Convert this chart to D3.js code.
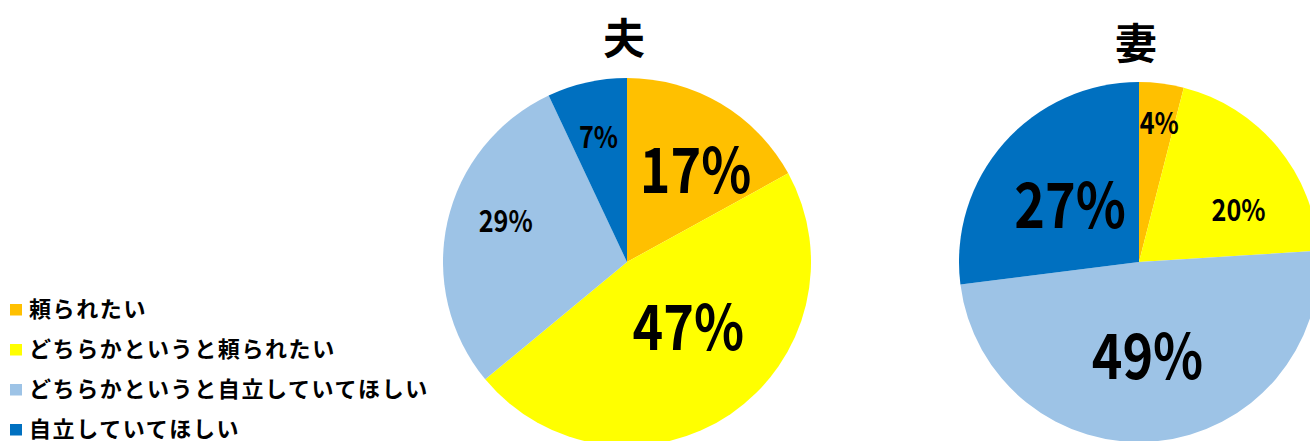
<!DOCTYPE html>
<html>
<head>
<meta charset="utf-8">
<script src="https://cdn.jsdelivr.net/npm/d3@7/dist/d3.min.js"></script>
<style>
  body { margin: 0; background: #fff; }
  text { font-family: "Noto Sans CJK JP", "Noto Sans", sans-serif; fill: #000; }
  .legend-text { font-size: 22px; font-weight: bold; letter-spacing: 1.6px; }
  .title { font-size: 42px; font-weight: bold; }
</style>
</head>
<body>
<svg id="chart"></svg>
<script>
const categories = ["頼られたい", "どちらかというと頼られたい", "どちらかというと自立していてほしい", "自立していてほしい"];
const colors = ["#ffc000", "#ffff00", "#9dc3e6", "#0070c0"];

const husbandValues = [17, 47, 29, 7];
const wifeValues = [4, 20, 49, 27];
const titles = ["夫", "妻"];

const width = 1310;
const height = 441;

const svg = d3.select("#chart")
    .attr("width", width)
    .attr("height", height);

// label placement per slice: distance as fraction of radius, angle nudge (deg), font size
const pies = [
    { title: titles[0], values: husbandValues, cx: 627, cy: 262, r: 184, titleY: 54,
      labels: [ { k: 0.64, da: 5, size: 62 }, { k: 0.47, da: -11, size: 62 },
                { k: 0.70, da: 7, size: 30 }, { k: 0.71, da: 0, size: 30 } ] },
    { title: titles[1], values: wifeValues, cx: 1139, cy: 262, r: 180, titleY: 59,
      labels: [ { k: 0.79, da: 1, size: 30 }, { k: 0.63, da: 11, size: 30 },
                { k: 0.50, da: 0, size: 62 }, { k: 0.51, da: 0, size: 62 } ] }
];

const pie = d3.pie().sort(null).value(function(d) { return d; });
const color = d3.scaleOrdinal().domain(d3.range(categories.length)).range(colors);

pies.forEach(function(p) {
    const g = svg.append("g").attr("transform", `translate(${p.cx}, ${p.cy})`);
    const arc = d3.arc().innerRadius(0).outerRadius(p.r);
    const arcs = pie(p.values);

    g.selectAll("path")
        .data(arcs)
        .enter()
        .append("path")
        .attr("d", arc)
        .attr("fill", function(d) { return color(d.index); });

    g.selectAll("text.val")
        .data(arcs)
        .enter()
        .append("text")
        .attr("class", "val")
        .attr("text-anchor", "middle")
        .attr("dominant-baseline", "central")
        .attr("transform", function(d) {
            const lab = p.labels[d.index];
            const a = (d.startAngle + d.endAngle) / 2 + lab.da * Math.PI / 180;
            const rr = p.r * lab.k;
            return `translate(${rr * Math.sin(a)}, ${-rr * Math.cos(a)}) scale(0.84, 1)`;
        })
        .style("font-size", function(d) { return p.labels[d.index].size + "px"; })
        .style("font-weight", "bold")
        .text(function(d) { return d.data + "%"; });

    svg.append("text")
        .attr("class", "title")
        .attr("x", p.cx - 3)
        .attr("y", p.titleY)
        .attr("text-anchor", "middle")
        .text(p.title);
});

// Legend
const legend = svg.append("g").attr("transform", "translate(10, 304)");
const rowH = 40;

legend.selectAll("rect")
    .data(categories)
    .enter()
    .append("rect")
    .attr("x", 0)
    .attr("y", function(d, i) { return i * rowH; })
    .attr("width", 12)
    .attr("height", 11.5)
    .attr("fill", function(d, i) { return color(i); });

legend.selectAll("text")
    .data(categories)
    .enter()
    .append("text")
    .attr("class", "legend-text")
    .attr("x", 19)
    .attr("y", function(d, i) { return i * rowH + 2.5; })
    .attr("dominant-baseline", "central")
    .text(function(d) { return d; });
</script>
</body>
</html>
